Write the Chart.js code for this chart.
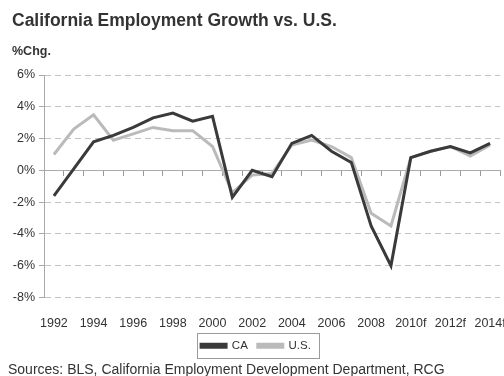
<!DOCTYPE html>
<html>
<head>
<meta charset="utf-8">
<title>California Employment Growth vs. U.S.</title>
<script src="https://cdn.jsdelivr.net/npm/chart.js@4/dist/chart.umd.min.js"></script>
<style>
  html, body { margin: 0; padding: 0; background: #fff; }
  #wrap { position: relative; width: 504px; height: 376px; }
</style>
</head>
<body>
<div id="wrap"><canvas id="chart" width="504" height="376"></canvas></div>
<script>
// Annual employment growth, % change; 2010 onward are forecasts
const years = ['1992', '1993', '1994', '1995', '1996', '1997', '1998', '1999', '2000', '2001',
  '2002', '2003', '2004', '2005', '2006', '2007', '2008', '2009',
  '2010f', '2011f', '2012f', '2013f', '2014f'];
const caGrowth = [-1.6, 0.1, 1.8, 2.2, 2.7, 3.3, 3.6, 3.1, 3.4, -1.7,
  0.0, -0.4, 1.7, 2.2, 1.2, 0.5, -3.5, -6.0,
  0.8, 1.2, 1.5, 1.1, 1.7];
const usGrowth = [1.0, 2.6, 3.5, 1.9, 2.3, 2.7, 2.5, 2.5, 1.5, -1.4,
  -0.3, -0.2, 1.6, 1.9, 1.5, 0.8, -2.7, -3.5,
  0.8, 1.2, 1.5, 0.9, 1.6];
const yTicks = [-8, -6, -4, -2, 0, 2, 4, 6];

const FONT = "'Liberation Sans', Arial, sans-serif";
const INK = '#333';

// frame around the legend + the source line under it
const extras = {
  id: 'extras',
  afterDraw(chart) {
    const ctx = chart.ctx;
    const boxes = chart.legend.legendHitBoxes;
    if (boxes && boxes.length) {
      const l = Math.min(...boxes.map(b => b.left)) - 4;
      const r = Math.max(...boxes.map(b => b.left + b.width)) + 8;
      const mid = boxes[0].top + boxes[0].height / 2;
      ctx.save();
      ctx.strokeStyle = '#9a9a9a';
      ctx.lineWidth = 1;
      ctx.strokeRect(Math.round(l) + 0.5, Math.round(mid - 13) + 0.5, Math.round(r - l), 25);
      ctx.restore();
    }
    ctx.save();
    ctx.font = '14px ' + FONT;
    ctx.fillStyle = INK;
    ctx.textBaseline = 'alphabetic';
    ctx.fillText('Sources: BLS, California Employment Development Department, RCG', 8, 374);
    ctx.restore();
  }
};

new Chart(document.getElementById('chart'), {
  type: 'line',
  data: {
    labels: years,
    datasets: [
      { label: 'CA', data: caGrowth, borderColor: '#3a3a3a', backgroundColor: '#3a3a3a',
        borderWidth: 3, pointRadius: 0, tension: 0 },
      { label: 'U.S.', data: usGrowth, borderColor: '#bababa', backgroundColor: '#bababa',
        borderWidth: 3, pointRadius: 0, tension: 0 }
    ]
  },
  options: {
    responsive: false,
    animation: false,
    layout: { padding: { left: 12, right: 4, top: 8, bottom: 14.5 } },
    plugins: {
      title: {
        display: true, align: 'start', text: 'California Employment Growth vs. U.S.',
        color: INK, font: { family: FONT, size: 17.5, weight: 'bold' },
        padding: { top: 3, bottom: 7 }
      },
      subtitle: {
        display: true, align: 'start', text: '%Chg.',
        color: INK, font: { family: FONT, size: 12.5, weight: 'bold' },
        padding: { top: 5, bottom: 16 }
      },
      legend: {
        position: 'bottom',
        labels: {
          color: INK, font: { family: FONT, size: 11.5 },
          boxWidth: 25, boxHeight: 3, padding: 10
        }
      },
      tooltip: { enabled: false }
    },
    scales: {
      x: {
        type: 'category',
        offset: true,
        grid: { display: false, drawTicks: false },
        border: { display: false },
        ticks: {
          color: INK, font: { family: FONT, size: 12.5 },
          autoSkip: false, maxRotation: 0, padding: 19,
          callback: function (v, i) { return i % 2 === 0 ? this.getLabelForValue(v) : ''; }
        },
        afterFit(s) { s.paddingLeft = 0; s.paddingRight = 0; s.height = 32.5; }
      },
      // zero line with category tick marks hanging below it
      x0: {
        type: 'category',
        position: { y: 0 },
        offset: true,
        grid: { drawOnChartArea: false, offset: true, tickLength: 5, color: '#999', tickColor: '#999' },
        border: { display: true, color: '#aaa', width: 1 },
        ticks: { display: false }
      },
      y: {
        min: -8, max: 6,
        afterBuildTicks(s) { s.ticks = yTicks.map(v => ({ value: v })); },
        grid: { color: '#c4c4c4', tickLength: 5, tickColor: '#a8a8a8' },
        border: { display: true, color: '#a8a8a8', dash: [6, 4] },
        ticks: {
          color: INK, font: { family: FONT, size: 12.5 }, padding: 4,
          callback: v => v + '%'
        },
        afterFit(s) { s.width = 32; }
      }
    }
  },
  plugins: [extras]
});
</script>
</body>
</html>
